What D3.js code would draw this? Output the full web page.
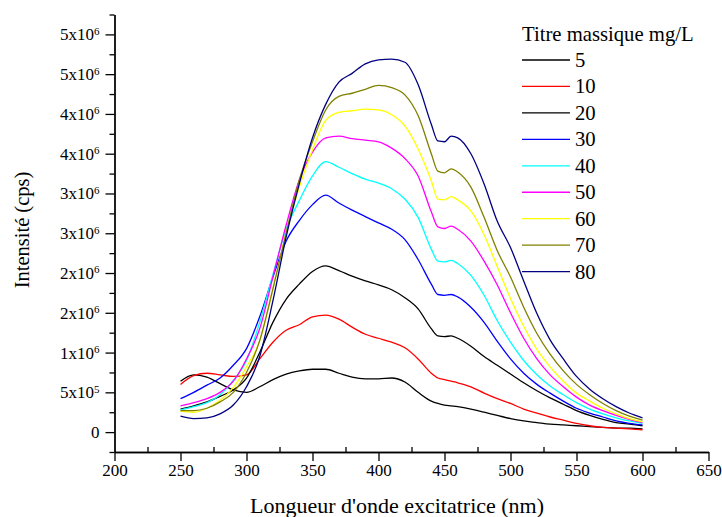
<!DOCTYPE html>
<html>
<head>
  <meta charset="UTF-8">
  <title>Intensité vs longueur d'onde excitatrice</title>
  <script src="https://d3js.org/d3.v7.min.js"></script>
</head>
<body style="margin:0; background:#fff;">
  <svg id="chart" width="722" height="517"></svg>

  <script>
    // Wavelength grid (nm)
    const wavelengths = [250,260,270,280,290,300,310,320,330,340,350,360,370,380,390,400,410,420,430,440,
                         445,450,455,460,470,480,490,500,510,520,530,540,550,560,570,580,590,600];

    // Intensity per concentration, in millions of cps
    const i5  = [0.64,0.72,0.69,0.61,0.53,0.50,0.57,0.66,0.73,0.77,0.79,0.79,0.74,0.69,0.67,0.67,0.68,0.63,0.50,0.39,
                 0.36,0.34,0.33,0.32,0.29,0.25,0.21,0.17,0.14,0.12,0.10,0.09,0.08,0.07,0.06,0.05,0.05,0.04];
    const i10 = [0.60,0.71,0.74,0.72,0.70,0.72,0.92,1.13,1.28,1.35,1.45,1.47,1.42,1.32,1.23,1.18,1.13,1.06,0.92,0.74,
                 0.68,0.66,0.64,0.62,0.57,0.49,0.42,0.36,0.29,0.24,0.19,0.15,0.11,0.08,0.06,0.05,0.04,0.03];
    const i20 = [0.29,0.33,0.38,0.45,0.53,0.68,1.00,1.38,1.67,1.86,2.02,2.09,2.03,1.96,1.90,1.85,1.79,1.69,1.55,1.30,
                 1.21,1.20,1.21,1.18,1.08,0.95,0.84,0.73,0.62,0.52,0.43,0.35,0.27,0.21,0.16,0.12,0.10,0.08];
    const i30 = [0.42,0.50,0.59,0.68,0.84,1.05,1.45,1.95,2.40,2.66,2.86,2.98,2.88,2.79,2.71,2.63,2.55,2.42,2.17,1.86,
                 1.73,1.72,1.73,1.70,1.57,1.38,1.14,0.92,0.74,0.60,0.49,0.39,0.30,0.24,0.19,0.14,0.11,0.09];
    const i40 = [0.28,0.32,0.37,0.47,0.65,0.90,1.38,1.98,2.55,2.91,3.22,3.40,3.33,3.25,3.18,3.13,3.06,2.93,2.70,2.30,
                 2.15,2.14,2.16,2.12,1.97,1.72,1.40,1.13,0.90,0.72,0.58,0.47,0.37,0.29,0.23,0.18,0.14,0.11];
    const i50 = [0.33,0.37,0.42,0.50,0.64,0.92,1.30,1.95,2.60,3.17,3.52,3.70,3.72,3.69,3.67,3.65,3.57,3.44,3.22,2.77,
                 2.58,2.56,2.59,2.55,2.40,2.15,1.85,1.50,1.18,0.92,0.72,0.57,0.44,0.34,0.27,0.21,0.16,0.12];
    const i60 = [0.26,0.25,0.30,0.40,0.56,0.82,1.15,1.80,2.50,3.08,3.55,3.92,4.02,4.04,4.06,4.05,3.99,3.85,3.56,3.16,
                 2.93,2.92,2.96,2.92,2.78,2.48,2.08,1.68,1.33,1.04,0.82,0.64,0.49,0.39,0.30,0.23,0.17,0.13];
    const i70 = [0.27,0.27,0.30,0.38,0.50,0.75,1.15,1.80,2.50,3.17,3.65,4.05,4.22,4.26,4.31,4.36,4.33,4.24,3.98,3.50,
                 3.28,3.26,3.31,3.27,3.08,2.70,2.28,1.95,1.57,1.24,0.98,0.77,0.60,0.47,0.36,0.27,0.20,0.15];
    const i80 = [0.20,0.17,0.18,0.23,0.34,0.57,0.95,1.65,2.45,3.12,3.70,4.12,4.40,4.51,4.63,4.68,4.69,4.65,4.37,3.87,
                 3.66,3.65,3.72,3.70,3.50,3.12,2.65,2.32,1.90,1.49,1.16,0.92,0.70,0.54,0.42,0.32,0.24,0.18];

    const seriesNames  = ["5", "10", "20", "30", "40", "50", "60", "70", "80"];
    const seriesValues = [i5, i10, i20, i30, i40, i50, i60, i70, i80];
    const seriesColors = ["#000000", "#ff0000", "#000000", "#0000ff", "#00ffff",
                          "#ff00ff", "#ffff00", "#808000", "#000080"];

    const xTicks = [200, 250, 300, 350, 400, 450, 500, 550, 600, 650];
    const yTicks = [0, 0.5, 1, 1.5, 2, 2.5, 3, 3.5, 4, 4.5, 5];

    const FONT = '"Liberation Serif"';

    const svg = d3.select("#chart");

    const x = d3.scaleLinear().domain([200, 650]).range([114.5, 708.5]);
    const y = d3.scaleLinear().domain([-0.25, 5.25]).range([452, 14.5]);

    // d3.axis puts its own font on the group, so restyle every axis here
    function styleAxis(g) {
      g.attr("font-family", null).attr("font-size", null);
      g.selectAll("path, line").attr("stroke", "#000").attr("stroke-width", 1.3);
      g.selectAll("text").style("font-family", FONT).attr("font-size", 17).attr("fill", "#000");
    }

    // Minor ticks first, so majors sit on top
    const xMinor = d3.range(225, 650, 50);
    const yMinor = d3.range(-0.25, 5.3, 0.5);

    svg.append("g")
       .attr("transform", `translate(0,${y.range()[0]})`)
       .call(d3.axisTop(x).tickValues(xMinor).tickSize(5).tickSizeOuter(0).tickFormat(""))
       .call(styleAxis);

    svg.append("g")
       .attr("transform", `translate(${x.range()[0]},0)`)
       .call(d3.axisLeft(y).tickValues(yMinor).tickSize(5).tickSizeOuter(0).tickFormat(""))
       .call(styleAxis);

    // X axis
    svg.append("g")
       .attr("transform", `translate(0,${y.range()[0]})`)
       .call(d3.axisBottom(x).tickValues(xTicks).tickSize(9).tickSizeOuter(0).tickPadding(3))
       .call(styleAxis);

    // Y axis with the rounded "Nx10^k" labels of the original
    const yAxis = svg.append("g")
       .attr("transform", `translate(${x.range()[0]},0)`)
       .call(d3.axisLeft(y).tickValues(yTicks).tickSize(9).tickSizeOuter(0).tickPadding(6))
       .call(styleAxis);

    yAxis.selectAll(".tick text").each(function(d) {
      const t = d3.select(this).text(null);
      if (d === 0) { t.text("0"); return; }
      const mant = d < 1 ? Math.round(d * 10) : Math.round(d);
      const exp = d < 1 ? 5 : 6;
      t.append("tspan").text(mant + "x10");
      t.append("tspan").attr("dy", "-0.5em").attr("font-size", 11).text(exp);
    });

    // Curves
    const line = d3.line()
                   .x((d, i) => x(wavelengths[i]))
                   .y(d => y(d))
                   .curve(d3.curveMonotoneX);

    seriesValues.forEach((vals, k) => {
      svg.append("path")
         .datum(vals)
         .attr("fill", "none")
         .attr("stroke", seriesColors[k])
         .attr("stroke-width", 1.3)
         .attr("d", line);
    });

    // Legend
    const legend = svg.append("g").attr("transform", "translate(522,0)");
    legend.append("text")
          .attr("x", 0).attr("y", 41)
          .style("font-family", FONT).attr("font-size", 20.7)
          .text("Titre massique mg/L");

    seriesNames.forEach((name, k) => {
      const ly = 60 + k * 26.45;
      legend.append("line")
            .attr("x1", 0).attr("x2", 48)
            .attr("y1", ly).attr("y2", ly)
            .attr("stroke", seriesColors[k])
            .attr("stroke-width", 1.3);
      legend.append("text")
            .attr("x", 53).attr("y", ly + 7)
            .style("font-family", FONT).attr("font-size", 20.7)
            .text(name);
    });

    // Axis titles
    svg.append("text")
       .attr("x", 397).attr("y", 513)
       .attr("text-anchor", "middle")
       .style("font-family", FONT).attr("font-size", 22)
       .text("Longueur d'onde excitatrice (nm)");

    svg.append("text")
       .attr("transform", "translate(29,230) rotate(-90)")
       .attr("text-anchor", "middle")
       .style("font-family", FONT).attr("font-size", 20.5)
       .text("Intensité (cps)");
  </script>
</body>
</html>
